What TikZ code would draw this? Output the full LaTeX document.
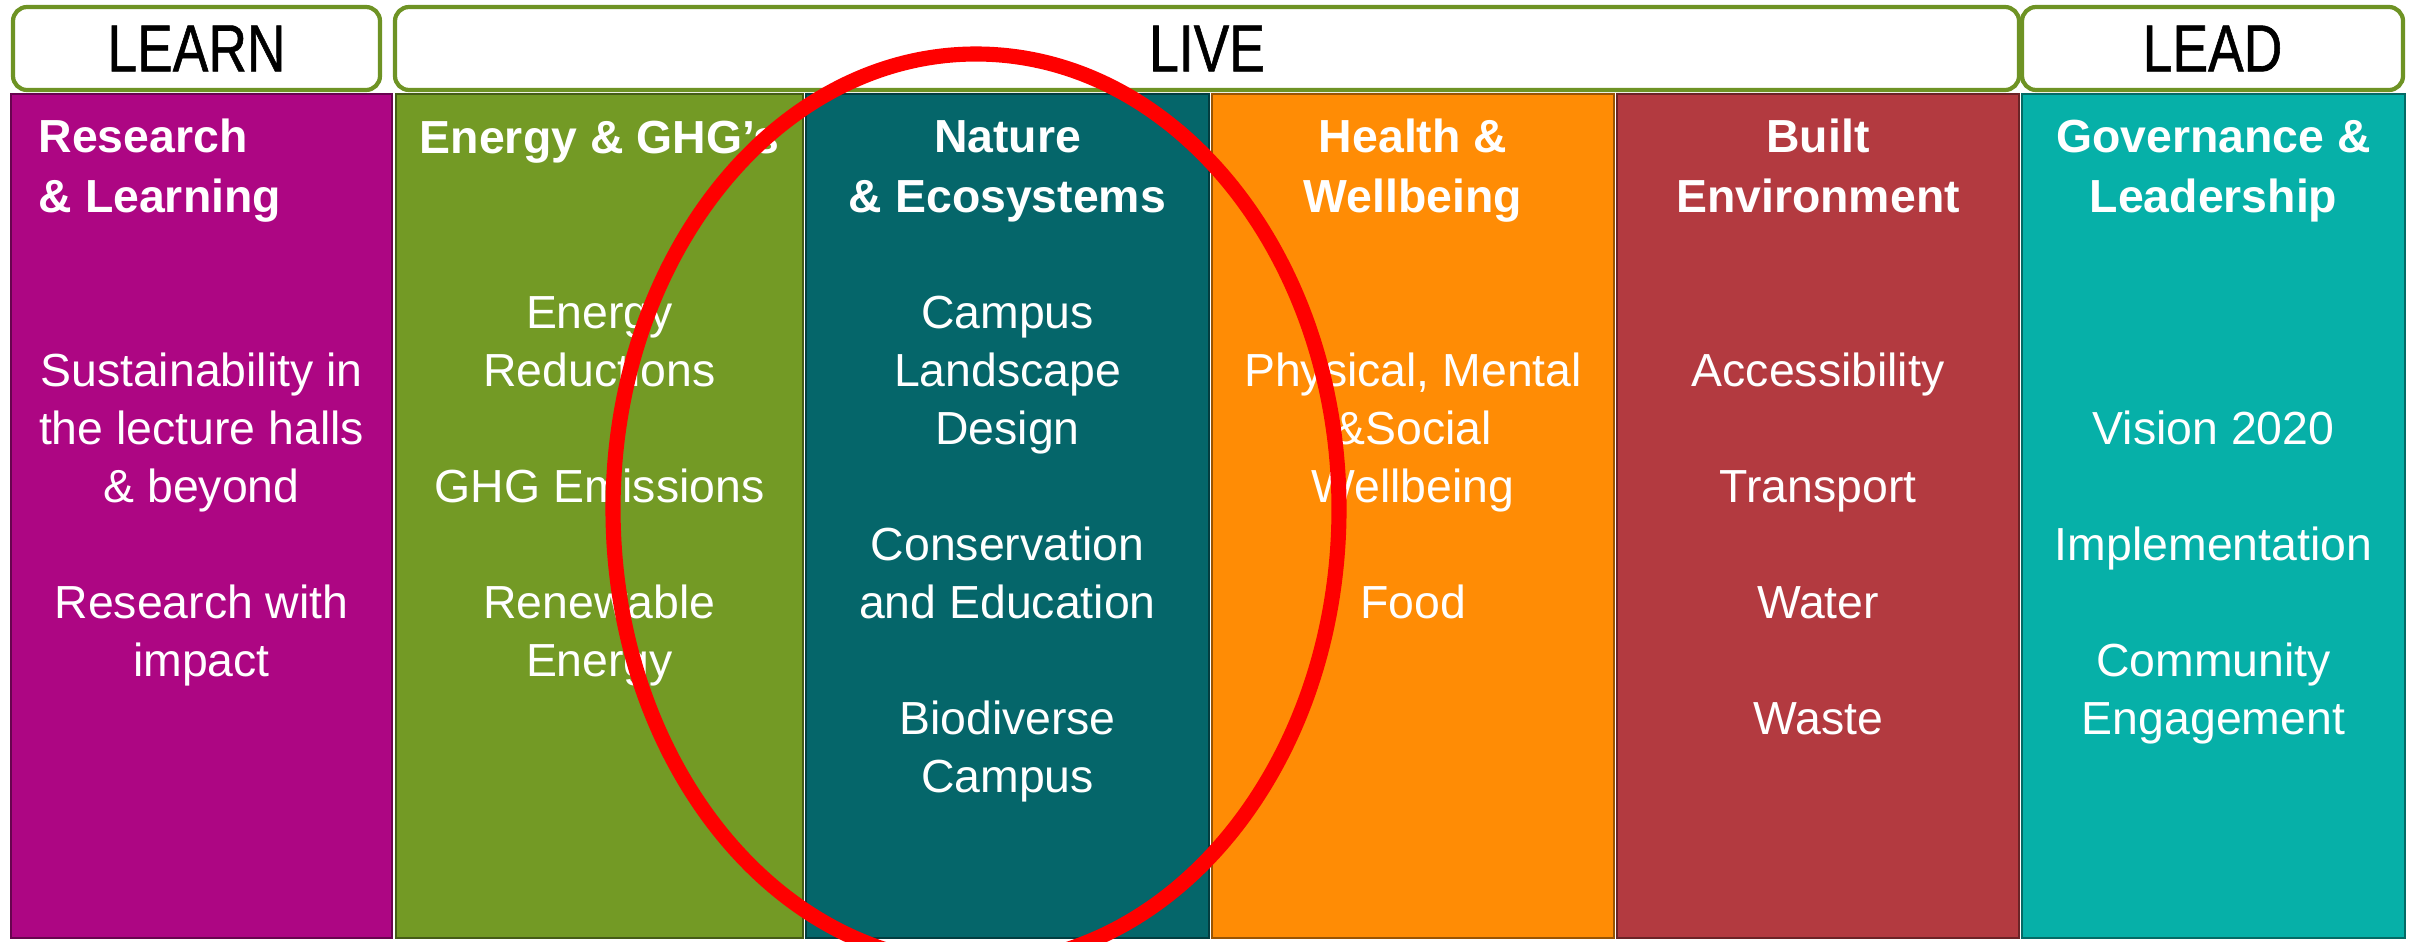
\documentclass[tikz,border=0pt]{standalone}
\usepackage{fontspec}
\setmainfont{Liberation Sans}
\newfontfamily\headfont[FakeStretch=0.8,FakeBold=0.8]{Liberation Sans}
\definecolor{learnpink}{HTML}{AD0683}
\definecolor{energygreen}{HTML}{739A25}
\definecolor{natureteal}{HTML}{05666A}
\definecolor{healthorange}{HTML}{FF8C05}
\definecolor{builtred}{HTML}{B33A40}
\definecolor{leadcyan}{HTML}{06B0A8}
\definecolor{framegreen}{HTML}{6E9324}
\begin{document}
\begin{tikzpicture}[x=1cm,y=-1cm,
  header/.style={draw=framegreen,line width=1.2pt,fill=white,rounded corners=4pt,
    minimum height=0.83cm,font=\headfont\fontsize{19}{22}\selectfont},
  column/.style={fill=#1,draw=#1!60!black,line width=0.8pt,minimum height=8.44cm},
  title/.style={text=white,font=\bfseries\fontsize{13.2}{16.8}\selectfont,anchor=base,align=center,inner sep=0pt},
  item/.style={text=white,font=\fontsize{13.2}{16.5}\selectfont,anchor=base,align=center,inner sep=0pt},
  focus/.style={draw=red,line width=4.3pt}]
\useasboundingbox (0,0) rectangle (24.17,9.41);
\node[header,minimum width=3.67cm] (learn) at (1.965,0.485) {LEARN};
\node[header,minimum width=16.24cm] (live) at (12.07,0.485) {LIVE};
\node[header,minimum width=3.81cm] (lead) at (22.125,0.485) {LEAD};
\foreach \name/\cx/\w/\c in {research/2.015/3.81/learnpink,energy/5.995/4.07/energygreen,
  nature/10.075/4.03/natureteal,health/14.13/4.02/healthorange,
  built/18.18/4.02/builtred,governance/22.135/3.83/leadcyan}
  \node[column=\c,minimum width=\w cm] (\name) at (\cx,5.16) {};
\node[title,anchor=base west,align=left] (research-t) at (0.38,2.12) {Research\\\& Learning};
\node[title] (energy-t) at (energy |- 0,1.53) {Energy \& GHG’s};
\node[title] (nature-t) at (nature |- 0,2.12) {Nature\\\& Ecosystems};
\node[title] (health-t) at (health |- 0,2.12) {Health \&\\Wellbeing};
\node[title] (built-t) at (built |- 0,2.12) {Built\\Environment};
\node[title] (governance-t) at (governance |- 0,2.12) {Governance \&\\Leadership};
\node[item] (research-b) at (research |- 0,6.76) {Sustainability in\\the lecture halls\\\& beyond\\\mbox{}\\Research with\\impact};
\node[item] (energy-b) at (energy |- 0,6.76) {Energy\\Reductions\\\mbox{}\\GHG Emissions\\\mbox{}\\Renewable\\Energy};
\node[item] (nature-b) at (nature |- 0,7.92) {Campus\\Landscape\\Design\\\mbox{}\\Conservation\\and Education\\\mbox{}\\Biodiverse\\Campus};
\node[item] (health-b) at (health |- 0,6.18) {Physical, Mental\\\&Social\\Wellbeing\\\mbox{}\\Food};
\node[item] (built-b) at (built |- 0,7.34) {Accessibility\\\mbox{}\\Transport\\\mbox{}\\Water\\\mbox{}\\Waste};
\node[item] (governance-b) at (governance |- 0,7.34) {Vision 2020\\\mbox{}\\Implementation\\\mbox{}\\Community\\Engagement};
\draw[focus] (9.76,5.09) ellipse [x radius=3.63,y radius=4.55];
\end{tikzpicture}
\end{document}
